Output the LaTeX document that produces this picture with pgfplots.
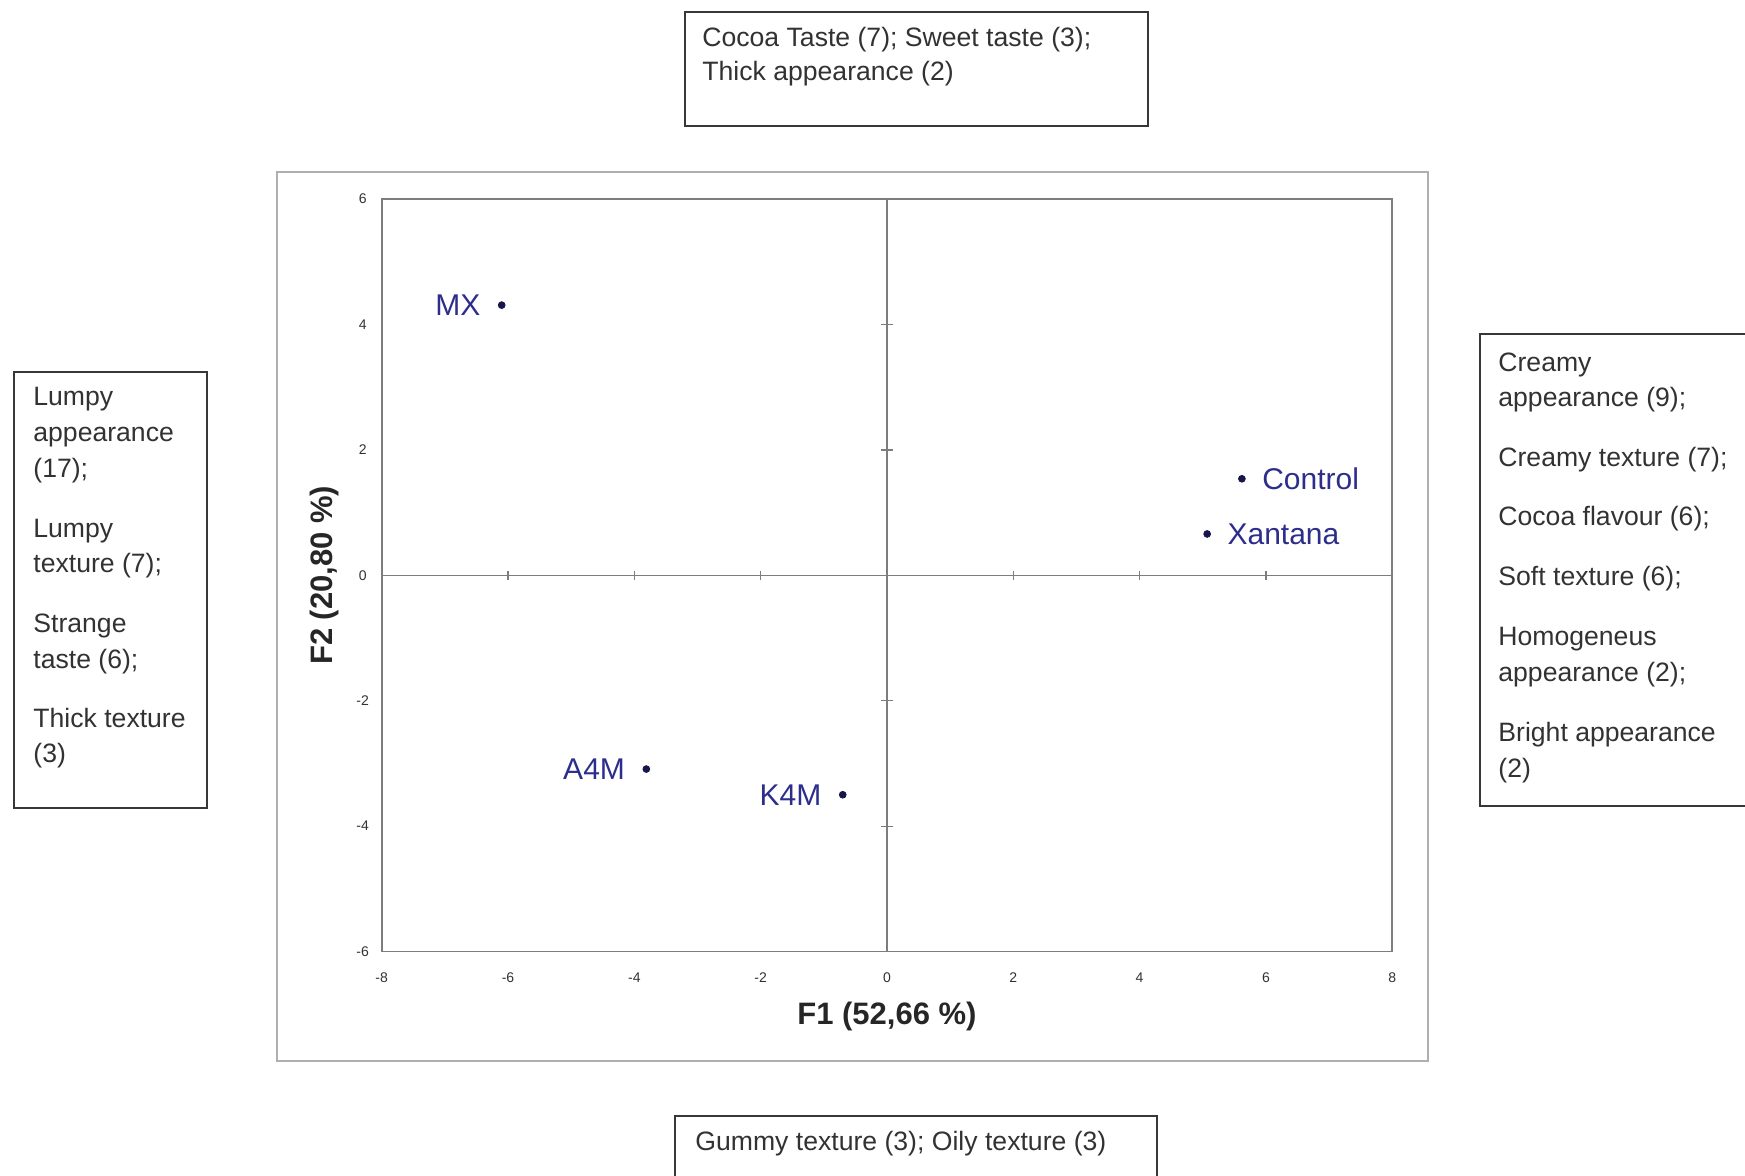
\documentclass[border=0pt]{standalone}
\usepackage{fontspec}
\setmainfont{Liberation Sans}
\usepackage{pgfplots}
\pgfplotsset{compat=1.18}
\definecolor{ptblue}{RGB}{45,45,140}
\definecolor{ptdot}{RGB}{22,22,75}
\definecolor{framegray}{RGB}{125,125,125}
\definecolor{outergray}{RGB}{175,175,175}
\definecolor{boxgray}{RGB}{55,55,55}
\definecolor{txt}{RGB}{50,50,50}
\newcommand\bx{\fontsize{13.3}{16}\selectfont}
\begin{document}
\begin{tikzpicture}
\path[use as bounding box] (0,0) rectangle (872.5pt,588pt);
\begin{scope}[x=0.5pt,y=-0.5pt,yshift=588pt]
  % outer chart frame
  \draw[outergray, line width=1pt] (277,172.5) rectangle (1428,1061);
  % boxes
  \draw[boxgray, line width=1pt] (685,12.5) rectangle (1148,126.5);
  \draw[boxgray, line width=1pt] (13.5,372.5) rectangle (206.5,808.5);
  \draw[boxgray, line width=1pt] (1480,334.5) rectangle (1760,806.5);
  \draw[boxgray, line width=1pt] (675,1116.5) rectangle (1157,1200);
  \begin{scope}[every node/.style={anchor=base west, inner sep=0pt, font=\bx, text=txt}]
    % top box
    \node at (702,47) {Cocoa Taste (7); Sweet taste (3);};
    \node at (702,81) {Thick appearance (2)};
    % left box
    \node at (33,406) {Lumpy};
    \node at (33,442) {appearance};
    \node at (33,478) {(17);};
    \node at (33,538) {Lumpy};
    \node at (33,573) {texture (7);};
    \node at (33,633) {Strange};
    \node at (33,669) {taste (6);};
    \node at (33,728) {Thick texture};
    \node at (33,763) {(3)};
    % right box
    \node at (1498,372) {Creamy};
    \node at (1498,407) {appearance (9);};
    \node at (1498,467) {Creamy texture (7);};
    \node at (1498,526) {Cocoa flavour (6);};
    \node at (1498,586) {Soft texture (6);};
    \node at (1498,646) {Homogeneus};
    \node at (1498,682) {appearance (2);};
    \node at (1498,742) {Bright appearance};
    \node at (1498,778) {(2)};
    % bottom box
    \node at (695,1151) {Gummy texture (3); Oily texture (3)};
  \end{scope}
\end{scope}
\begin{axis}[
  at={(190.85pt,112.25pt)}, anchor=south west,
  scale only axis, width=505.25pt, height=376.15pt,
  xmin=-8, xmax=8, ymin=-6, ymax=6,
  xtick={-8,-6,...,8}, ytick={-6,-4,...,6},
  major tick length=0pt, tick style={draw=none},
  axis line style={framegray, line width=0.8pt},
  /pgf/number format/assume math mode=true,
  ticklabel style={font=\fontsize{7}{8}\selectfont, text=txt},
  xticklabel style={anchor=center, yshift=-13.2pt},
  yticklabel style={anchor=center, xshift=-9.5pt},
  xlabel={F1 (52,66 \%)}, ylabel={F2 (20,80 \%)},
  label style={font=\bfseries\fontsize{15.5}{18}\selectfont, text=black!85},
  xlabel style={at={(axis description cs:0.5,-0.086)}, anchor=center},
  ylabel style={at={(axis description cs:-0.0564,0.5)}, anchor=center},
  clip=false,
]
\draw[framegray, line width=0.8pt] (axis cs:-8,0) -- (axis cs:8,0);
\draw[framegray, line width=0.8pt] (axis cs:0,-6) -- (axis cs:0,6);
\addplot[only marks, mark=|, mark size=2.2pt, framegray, mark options={line width=0.6pt}]
  coordinates {(-6,0) (-4,0) (-2,0) (2,0) (4,0) (6,0)};
\addplot[only marks, mark=-, mark size=2.8pt, framegray, mark options={line width=0.6pt}]
  coordinates {(0,-4) (0,-2) (0,2) (0,4)};
% points labelled on the left
\addplot[only marks, mark=*, mark size=1.7pt, ptdot,
  nodes near coords, point meta=explicit symbolic,
  every node near coord/.append style={anchor=east, inner sep=0pt, xshift=-10.5pt,
    text=ptblue, font=\fontsize{15}{18}\selectfont}]
  table[meta=label] {
x y label
-6.10 4.31 MX
-3.81 -3.09 A4M
-0.70 -3.50 K4M
};
% points labelled on the right
\addplot[only marks, mark=*, mark size=1.7pt, ptdot,
  nodes near coords, point meta=explicit symbolic,
  every node near coord/.append style={anchor=west, inner sep=0pt, xshift=10pt,
    text=ptblue, font=\fontsize{15}{18}\selectfont}]
  table[meta=label] {
x y label
5.62 1.54 Control
5.07 0.66 Xantana
};
\end{axis}
\end{tikzpicture}
\end{document}
